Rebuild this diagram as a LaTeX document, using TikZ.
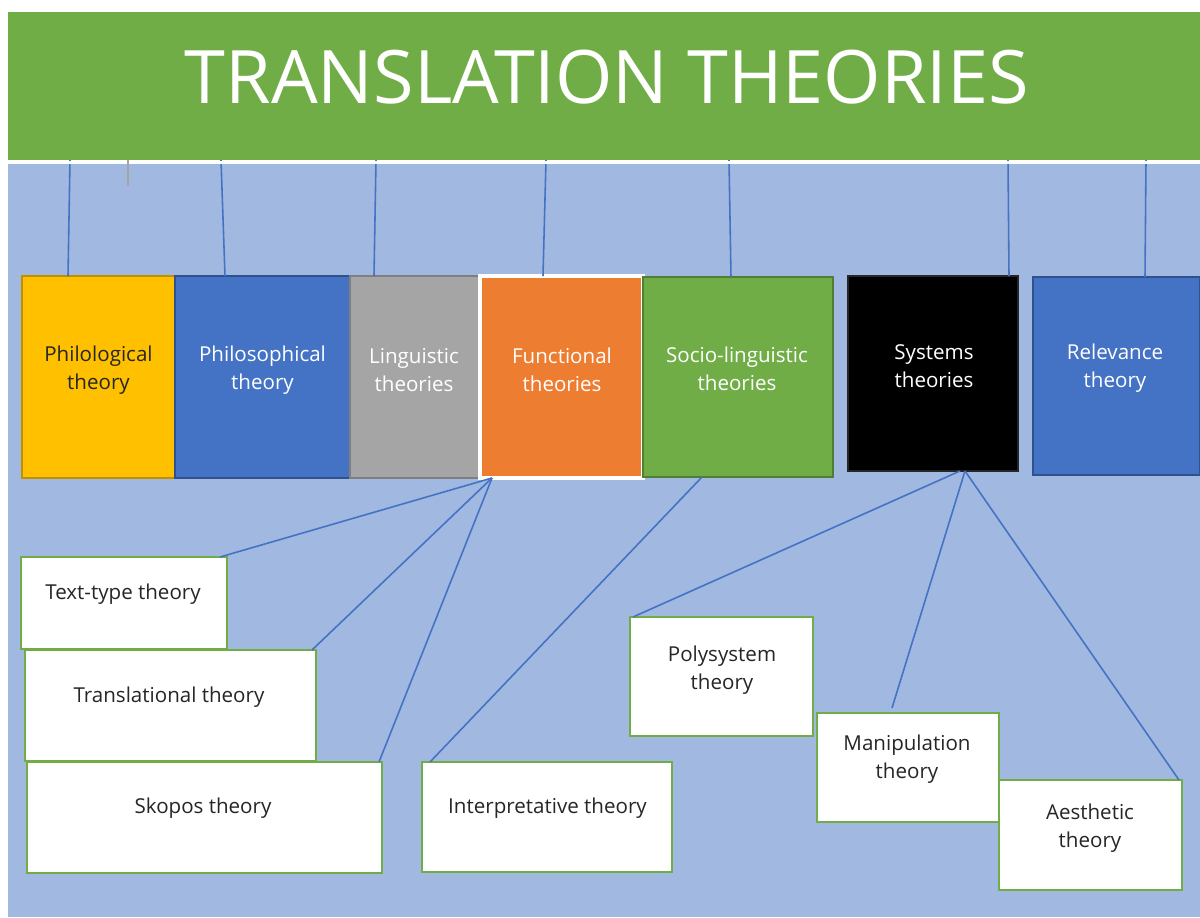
\documentclass[tikz,border=0pt]{standalone}
\usepackage{fontspec}
\setmainfont{Open Sans}

\newlength{\px}
\setlength{\px}{0.02cm}
\newcommand{\boxfont}{\fontsize{11.7pt}{16pt}\selectfont}
\newcommand{\titlefont}{\fontsize{42pt}{48pt}\selectfont}

\definecolor{bannergreen}{HTML}{70AD47}
\definecolor{bgblue}{HTML}{A1B8E0}
\definecolor{linkblue}{HTML}{4472C4}
\definecolor{yellowfill}{HTML}{FFC000}
\definecolor{yellowline}{HTML}{BF9000}
\definecolor{bluefill}{HTML}{4472C4}
\definecolor{blueline}{HTML}{2F528F}
\definecolor{grayfill}{HTML}{A5A5A5}
\definecolor{grayline}{HTML}{7F7F7F}
\definecolor{orangefill}{HTML}{ED7D31}
\definecolor{greenline}{HTML}{507E32}
\definecolor{darktext}{HTML}{262626}

\begin{document}
\begin{tikzpicture}[x=0.02cm, y=-0.02cm,
        every node/.style={inner sep=0pt, outer sep=0pt},
        theory/.style 2 args={fill=#1, draw=#2, line width=1pt},
        branch/.style={fill=white, draw=bannergreen, line width=1pt},
        boxtext/.style={align=center, font=\boxfont, text=white},
        branchtext/.style={align=center, font=\boxfont, text=darktext},
        link/.style={draw=linkblue, line width=0.9pt}]
        \useasboundingbox (0,0) rectangle (1200,917);
        \fill[white] (0,0) rectangle (1200,917);
        \fill[bgblue] (8,162) rectangle (1200,917);

        \node[fill=bannergreen, minimum width=1192\px, minimum height=148\px] (title) at (604,86) {};
        \node[text=white, font=\titlefont] (title text) at (607,77) {TRANSLATION THEORIES};

        \node[theory={yellowfill}{yellowline}, minimum width=153\px, minimum height=202\px] (phil) at (98.5,377) {};
        \node[theory={bluefill}{blueline}, minimum width=175\px, minimum height=202\px] (philo) at (262.5,377) {};
        \node[theory={grayfill}{grayline}, minimum width=130\px, minimum height=202\px] (ling) at (415,377) {};
        \node[theory={orangefill}{white}, line width=2pt, minimum width=163\px, minimum height=202\px] (func) at (561.5,377) {};
        \node[theory={bannergreen}{greenline}, minimum width=190\px, minimum height=200\px] (socio) at (738,377) {};
        \node[theory={black}{darktext}, minimum width=170\px, minimum height=195\px] (sys) at (933,373.5) {};
        \node[theory={bluefill}{blueline}, minimum width=167\px, minimum height=198\px] (rel) at (1116.5,376) {};

        \node[boxtext, text=darktext] (phil text) at (98.5,370) {Philological\\theory};
        \node[boxtext] (philo text) at (262.5,370) {Philosophical\\theory};
        \node[boxtext] (ling text) at (414,370) {Linguistic\\theories};
        \node[boxtext] (func text) at (562,370) {Functional\\theories};
        \node[boxtext] (socio text) at (737,369) {Socio-linguistic\\theories};
        \node[boxtext] (sys text) at (934,366) {Systems\\theories};
        \node[boxtext] (rel text) at (1115,368) {Relevance\\theory};

        \foreach \n/\xt/\xb in {phil/70/68, philo/221/225, ling/376/374, func/546/543, socio/729/731, sys/1008/1009, rel/1146/1145}
            \draw[link] (title.south -| \xt,0) -- (\n.north -| \xb,0);
        \draw[white, line width=3\px] (8,162) -- (1200,162);

        \coordinate (tick) at (128,186);
        \draw[grayfill, line width=0.9pt] (title.south -| tick) -- (tick);

        \node[branch, minimum width=206\px, minimum height=92\px] (ttype) at (124,603) {};
        \node[branch, minimum width=291\px, minimum height=111\px] (transl) at (170.5,705.5) {};
        \node[branch, minimum width=355\px, minimum height=111\px] (skopos) at (204.5,817.5) {};
        \node[branch, minimum width=250\px, minimum height=110\px] (interp) at (547,817) {};
        \node[branch, minimum width=183\px, minimum height=119\px] (poly) at (721.5,676.5) {};
        \node[branch, minimum width=182\px, minimum height=109\px] (manip) at (908,767.5) {};
        \node[branch, minimum width=183\px, minimum height=110\px] (aes) at (1090.5,835) {};

        \node[branchtext] (ttype text) at (123,594) {Text-type theory};
        \node[branchtext] (transl text) at (169,697) {Translational theory};
        \node[branchtext] (skopos text) at (203,808) {Skopos theory};
        \node[branchtext] (interp text) at (547.5,808) {Interpretative theory};
        \node[branchtext] (poly text) at (722,670) {Polysystem\\theory};
        \node[branchtext] (manip text) at (907,759) {Manipulation\\theory};
        \node[branchtext] (aes text) at (1090,828) {Aesthetic\\theory};

        \coordinate (manip end) at (892,708);
        \draw[link] (func.south -| 492,0) -- (ttype.north -| 220,0);
        \draw[link] (func.south -| 492,0) -- (transl.north -| 312,0);
        \draw[link] (func.south -| 492,0) -- (skopos.north -| 379,0);
        \draw[link] (socio.south -| 702,0) -- (interp.north -| 430,0);
        \draw[link] (sys.south -| 960,0) -- (poly.north -| 633,0);
        \draw[link] (sys.south -| 965,0) -- (manip end);
        \draw[link] (sys.south -| 965,0) -- (aes.north -| 1179,0);
    \end{tikzpicture}
\end{document}
